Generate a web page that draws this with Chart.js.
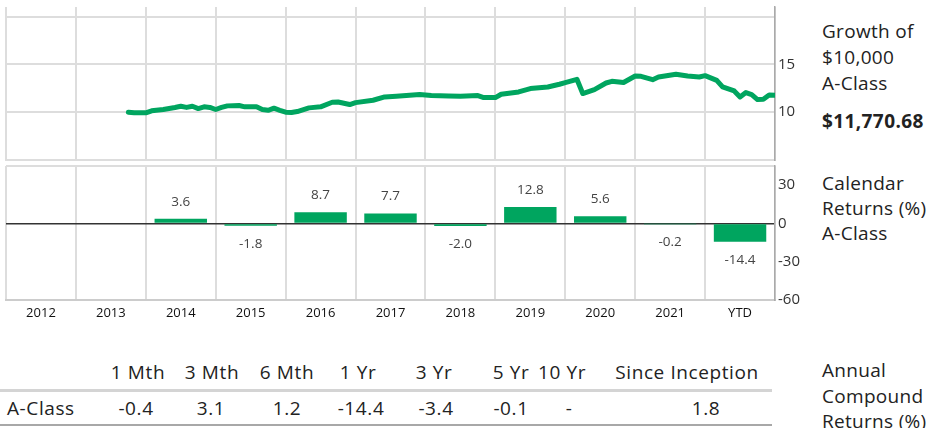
<!DOCTYPE html>
<html>
<head>
<meta charset="utf-8">
<script src="https://cdn.jsdelivr.net/npm/chart.js@4.4.0/dist/chart.umd.min.js"></script>
<style>
  body { margin: 0; width: 933px; height: 428px; overflow: hidden; background: #fff; position: relative;
         font-family: 'Open Sans', sans-serif; color: #222; }
  canvas { position: absolute; left: 0; }
  #growthChart { top: 0; }
  #returnsChart { top: 160px; }
  .side { position: absolute; left: 822px; font-size: 19px; letter-spacing: 0.3px; white-space: nowrap; }
  .cell { position: absolute; font-size: 19px; letter-spacing: 0.6px; line-height: 26px; white-space: nowrap; transform: translateX(-50%); }
  .rule { position: absolute; left: 0; width: 772px; }
</style>
</head>
<body>
<canvas id="growthChart" width="810" height="162"></canvas>
<canvas id="returnsChart" width="810" height="165"></canvas>

<div class="side" style="top:18px; line-height:26px;">Growth of<br>$10,000<br>A-Class</div>
<div class="side" style="top:108px; line-height:26px; font-weight:bold; letter-spacing:0.4px;">$11,770.68</div>
<div class="side" style="top:171px; line-height:25px;">Calendar<br>Returns (%)<br>A-Class</div>
<div class="side" style="top:358px; line-height:25.5px;">Annual<br>Compound<br>Returns (%)</div>

<div id="table"></div>

<script>
// growth of $10,000 (in thousands), month-end readings
var growthDates = [
  '2013-09', '2013-10', '2013-12', '2014-01', '2014-03', '2014-05', '2014-06', '2014-07',
  '2014-08', '2014-09', '2014-10', '2014-11', '2014-12', '2015-01', '2015-02', '2015-04',
  '2015-05', '2015-07', '2015-08', '2015-09', '2015-10', '2015-11', '2015-12', '2016-01',
  '2016-02', '2016-04', '2016-06', '2016-08', '2016-09', '2016-11', '2016-12', '2017-03',
  '2017-05', '2017-07', '2017-11', '2018-01', '2018-04', '2018-06', '2018-09', '2018-10',
  '2018-12', '2019-01', '2019-04', '2019-06', '2019-09', '2019-11', '2019-12', '2020-02',
  '2020-03', '2020-05', '2020-07', '2020-08', '2020-10', '2020-12', '2021-01', '2021-03',
  '2021-04', '2021-07', '2021-09', '2021-11', '2021-12', '2022-02', '2022-03', '2022-05',
  '2022-06', '2022-07', '2022-08', '2022-09', '2022-10', '2022-11', '2022-12'
];
var growthValues = [
  10.0, 9.93, 9.93, 10.14, 10.28, 10.49, 10.62, 10.5,
  10.62, 10.38, 10.56, 10.5, 10.28, 10.5, 10.66, 10.7,
  10.56, 10.56, 10.28, 10.2, 10.42, 10.2, 10.0, 9.97,
  10.07, 10.45, 10.56, 11.04, 11.07, 10.8, 11.0, 11.25,
  11.6, 11.67, 11.84, 11.74, 11.7, 11.67, 11.74, 11.53,
  11.53, 11.88, 12.12, 12.47, 12.64, 12.92, 13.09, 13.44,
  11.95, 12.36, 13.05, 13.23, 13.1, 13.78, 13.75, 13.4,
  13.68, 13.96, 13.78, 13.68, 13.82, 13.33, 12.64, 12.22,
  11.6, 12.05, 11.84, 11.32, 11.35, 11.8, 11.77
];
var growthTicks = [10, 15];

var years = ['2012', '2013', '2014', '2015', '2016', '2017', '2018', '2019', '2020', '2021', 'YTD'];
var calendarReturns = [null, null, 3.6, -1.8, 8.7, 7.7, -2.0, 12.8, 5.6, -0.2, -14.4];
var returnTicks = [-60, -30, 0, 30];

var periodLabels = ['1 Mth', '3 Mth', '6 Mth', '1 Yr', '3 Yr', '5 Yr', '10 Yr', 'Since Inception'];
var periodReturns = ['-0.4', '3.1', '1.2', '-14.4', '-3.4', '-0.1', '-', '1.8'];

var green = '#00a55f';
Chart.defaults.font.family = "'Open Sans', sans-serif";

// months since start of 2012 (month-end)
var growthPoints = growthDates.map(function(d, i) {
  var p = d.split('-');
  return { x: (Number(p[0]) - 2012) * 12 + Number(p[1]), y: growthValues[i] };
});

new Chart(document.getElementById('growthChart'), {
  type: 'line',
  data: {
    datasets: [{
      data: growthPoints,
      borderColor: green,
      borderWidth: 5,
      pointRadius: 0,
      tension: 0,
      borderJoinStyle: 'round',
      borderCapStyle: 'round'
    }]
  },
  options: {
    responsive: false,
    animation: false,
    layout: { padding: { left: 6, top: 7, right: 0, bottom: 0 } },
    plugins: { legend: { display: false }, tooltip: { enabled: false } },
    scales: {
      x: {
        type: 'linear', min: 0, max: 132,
        ticks: { display: false, stepSize: 12 },
        grid: { color: '#dddddd', lineWidth: 2, drawTicks: false },
        border: { color: '#dddddd', width: 2 },
        afterFit: function(s) { s.height = 2; s.paddingLeft = 0; s.paddingRight = 0; }
      },
      y: {
        position: 'right', min: 5, max: 21,
        afterBuildTicks: function(s) { s.ticks = [5, 10, 15, 20].map(function(v) { return { value: v }; }); },
        ticks: {
          color: '#333', font: { size: 15 }, padding: 3,
          callback: function(v) { return growthTicks.indexOf(v) >= 0 ? String(v) : ''; }
        },
        grid: { color: '#dddddd', lineWidth: 2, drawTicks: false },
        border: { color: '#aaaaaa', width: 1.5 },
        afterFit: function(s) { s.width = 35; s.paddingTop = 0; s.paddingBottom = 0; }
      }
    }
  }
});

// value labels above / below each bar
var barLabels = {
  id: 'barLabels',
  afterDatasetsDraw: function(chart) {
    var ctx = chart.ctx;
    var meta = chart.getDatasetMeta(0);
    ctx.save();
    ctx.font = "13.5px 'Open Sans'";
    ctx.fillStyle = '#444';
    ctx.textAlign = 'center';
    ctx.textBaseline = 'middle';
    meta.data.forEach(function(bar, i) {
      var v = calendarReturns[i];
      if (v === null) return;
      ctx.fillText(v.toFixed(1), bar.x, v >= 0 ? bar.y - 17 : bar.y + 18);
    });
    ctx.restore();
  }
};

new Chart(document.getElementById('returnsChart'), {
  type: 'bar',
  data: {
    labels: years,
    datasets: [{
      data: calendarReturns,
      backgroundColor: green,
      barPercentage: 0.75,
      categoryPercentage: 1
    }]
  },
  options: {
    responsive: false,
    animation: false,
    layout: { padding: { left: 6, top: 6, right: 0, bottom: 0 } },
    plugins: { legend: { display: false }, tooltip: { enabled: false } },
    scales: {
      x: {
        grid: { offset: true, color: '#dddddd', lineWidth: 2, drawTicks: false },
        border: { color: '#cccccc', width: 2 },
        ticks: { color: '#111', font: { size: 13 }, padding: 5, maxRotation: 0, autoSkip: false },
        afterFit: function(s) { s.height = 25; s.paddingLeft = 0; s.paddingRight = 0; }
      },
      y: {
        position: 'right', min: -60, max: 45, z: 1,
        afterBuildTicks: function(s) { s.ticks = [-60, -30, 0, 30, 45].map(function(v) { return { value: v }; }); },
        ticks: {
          color: '#333', font: { size: 15 }, padding: 3,
          callback: function(v) { return returnTicks.indexOf(v) >= 0 ? String(v) : ''; }
        },
        grid: {
          drawTicks: false,
          color: function(c) {
            if (c.tick.value === 0) return '#333333';
            if (c.tick.value === 45) return '#dddddd';
            return 'rgba(0,0,0,0)';
          },
          lineWidth: function(c) { return c.tick.value === 0 ? 1.5 : 2; }
        },
        border: { color: '#aaaaaa', width: 1.5 },
        afterFit: function(s) { s.width = 35; s.paddingTop = 0; s.paddingBottom = 0; }
      }
    }
  },
  plugins: [barLabels]
});

// annual compound returns table
var headX = [138, 212, 287, 358, 434, 511, 562, 687];
var valX = [136, 211, 287, 361, 436, 511, 569, 706];
var table = document.getElementById('table');
var html = '<div class="cell" style="left:7px; top:395px; transform:none;">A-Class</div>';
periodLabels.forEach(function(lab, i) {
  html += '<div class="cell" style="left:' + headX[i] + 'px; top:359px;">' + lab + '</div>';
  html += '<div class="cell" style="left:' + valX[i] + 'px; top:395px;">' + periodReturns[i] + '</div>';
});
html += '<div class="rule" style="top:389px; height:3px; background:#d4d4d4;"></div>';
html += '<div class="rule" style="top:424px; height:2px; background:#a8a8a8;"></div>';
table.innerHTML = html;
</script>
</body>
</html>
